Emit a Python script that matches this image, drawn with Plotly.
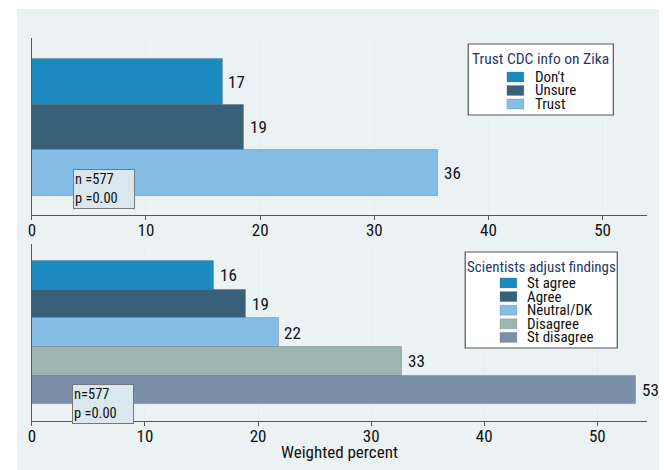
import plotly.graph_objects as go

# ---- data ----
top_title = "Trust CDC info on Zika"
top_cats = ["Don't", "Unsure", "Trust"]
top_vals = [16.7, 18.6, 35.6]
top_colors = ["#1b8bbf", "#386079", "#84bde6"]
top_note = "n =577<br>p =0.00"

bot_title = "Scientists adjust findings"
bot_cats = ["St agree", "Agree", "Neutral/DK", "Disagree", "St disagree"]
bot_vals = [16.1, 18.9, 21.8, 32.7, 53.4]
bot_colors = ["#1b8bbf", "#386079", "#84bde6", "#9bb6ae", "#7b90a8"]
bot_note = "n=577<br>p =0.00"

x_ticks = [0, 10, 20, 30, 40, 50]
x_title = "Weighted percent"

W, H = 664, 470
FONT = "Liberation Sans Narrow, Roboto Condensed, DejaVu Sans Condensed, Arial Narrow, sans-serif"
BG = "#eaf2f4"
AXC = "#555555"


def px(x):
    return x / W


def py(y):
    return 1 - y / H


fig = go.Figure()

panels = [
    dict(cats=top_cats, vals=top_vals, colors=top_colors, xa="x", ya="y",
         xrange=[0, 53.9], gap_top=0.46, gap_bot=0.42),
    dict(cats=bot_cats, vals=bot_vals, colors=bot_colors, xa="x2", ya="y2",
         xrange=[0, 54.4], gap_top=0.59, gap_bot=0.575),
]

annotations = []
shapes = []

# outer background
shapes.append(dict(type="rect", xref="paper", yref="paper", x0=px(13), x1=px(659),
                   y0=py(470), y1=py(9), fillcolor=BG, line=dict(width=0), layer="below"))

for p in panels:
    for i, (c, v, col) in enumerate(zip(p["cats"], p["vals"], p["colors"])):
        fig.add_trace(go.Bar(x=[v], y=[i], orientation="h", width=1, name=c,
                             marker=dict(color=col, line=dict(color="rgba(90,90,90,0.45)", width=0.8)),
                             xaxis=p["xa"], yaxis=p["ya"], showlegend=False, hoverinfo="x+name"))
        annotations.append(dict(x=v, y=i, xref=p["xa"], yref=p["ya"], text=f"{v:.0f}",
                                showarrow=False, xanchor="left", yanchor="middle", xshift=4,
                                font=dict(family=FONT, size=17, color="#111111")))

axis_common = dict(showgrid=True, gridcolor="#e4edf1", gridwidth=1, zeroline=False,
                   showline=True, linecolor=AXC, linewidth=1.2, ticks="outside", ticklen=4,
                   tickcolor=AXC, tickvals=x_ticks, tickfont=dict(family=FONT, size=17, color="#111111"),
                   ticklabelstandoff=-5, fixedrange=True)
yaxis_common = dict(showgrid=False, zeroline=False, showline=True, linecolor=AXC, linewidth=1.2,
                    showticklabels=False, ticks="", fixedrange=True)

fig.update_layout(
    xaxis=dict(**axis_common, range=panels[0]["xrange"], domain=[px(28), px(647)], anchor="y"),
    yaxis=dict(**yaxis_common, domain=[py(215), py(38)], anchor="x",
               range=[len(top_cats) - 0.5 + panels[0]["gap_bot"], -0.5 - panels[0]["gap_top"]]),
    xaxis2=dict(**axis_common, range=panels[1]["xrange"], domain=[px(28), px(647)], anchor="y2"),
    yaxis2=dict(**yaxis_common, domain=[py(421), py(244)], anchor="x2",
                range=[len(bot_cats) - 0.5 + panels[1]["gap_bot"], -0.5 - panels[1]["gap_top"]]),
)

# x-axis title
annotations.append(dict(x=px((28 + 647) / 2), y=py(452), xref="paper", yref="paper", text=x_title,
                        showarrow=False, xanchor="center", yanchor="middle",
                        font=dict(family=FONT, size=17, color="#111111")))

# n / p notes
for note, (x0, y0) in [(top_note, (69, 169)), (bot_note, (68, 384))]:
    annotations.append(dict(x=px(x0), y=py(y0), xref="paper", yref="paper", text=note,
                            showarrow=False, xanchor="left", yanchor="top", align="left",
                            bgcolor="#dbe7ee", bordercolor="#777777", borderwidth=1, borderpad=1,
                            width=58, font=dict(family=FONT, size=14.5, color="#111111")))

# legends (manual, Stata style)
legends = [
    dict(title=top_title, cats=top_cats, colors=top_colors, box=(467, 44, 613, 115),
         title_y=59, first_y=77, step=13.5, sw_x=(506, 523), txt_x=532, tsize=15.5),
    dict(title=bot_title, cats=bot_cats, colors=bot_colors, box=(464, 252, 617, 348),
         title_y=267, first_y=283, step=13.6, sw_x=(499, 516), txt_x=524, tsize=15),
]
for lg in legends:
    bx0, by0, bx1, by1 = lg["box"]
    shapes.append(dict(type="rect", xref="paper", yref="paper", x0=px(bx0), x1=px(bx1),
                       y0=py(by1), y1=py(by0), fillcolor="white", line=dict(color="#555555", width=1.2)))
    annotations.append(dict(x=px((bx0 + bx1) / 2), y=py(lg["title_y"]), xref="paper", yref="paper",
                            text=lg["title"], showarrow=False, xanchor="center", yanchor="middle",
                            font=dict(family=FONT, size=lg["tsize"], color="#1f3868")))
    for k, (c, col) in enumerate(zip(lg["cats"], lg["colors"])):
        yc = lg["first_y"] + k * lg["step"]
        shapes.append(dict(type="rect", xref="paper", yref="paper", x0=px(lg["sw_x"][0]), x1=px(lg["sw_x"][1]),
                           y0=py(yc + 5), y1=py(yc - 5), fillcolor=col,
                           line=dict(color="rgba(90,90,90,0.4)", width=0.6)))
        annotations.append(dict(x=px(lg["txt_x"]), y=py(yc), xref="paper", yref="paper", text=c,
                                showarrow=False, xanchor="left", yanchor="middle",
                                font=dict(family=FONT, size=15, color="#111111")))

fig.update_layout(
    width=W, height=H, margin=dict(l=0, r=0, t=0, b=0),
    paper_bgcolor="white", plot_bgcolor="white",
    shapes=shapes, annotations=annotations, bargap=0, showlegend=False,
    font=dict(family=FONT),
)

fig.write_html("out.html", config={"displayModeBar": False},
               post_script="document.body.style.margin='0';document.body.style.overflow='hidden';")
